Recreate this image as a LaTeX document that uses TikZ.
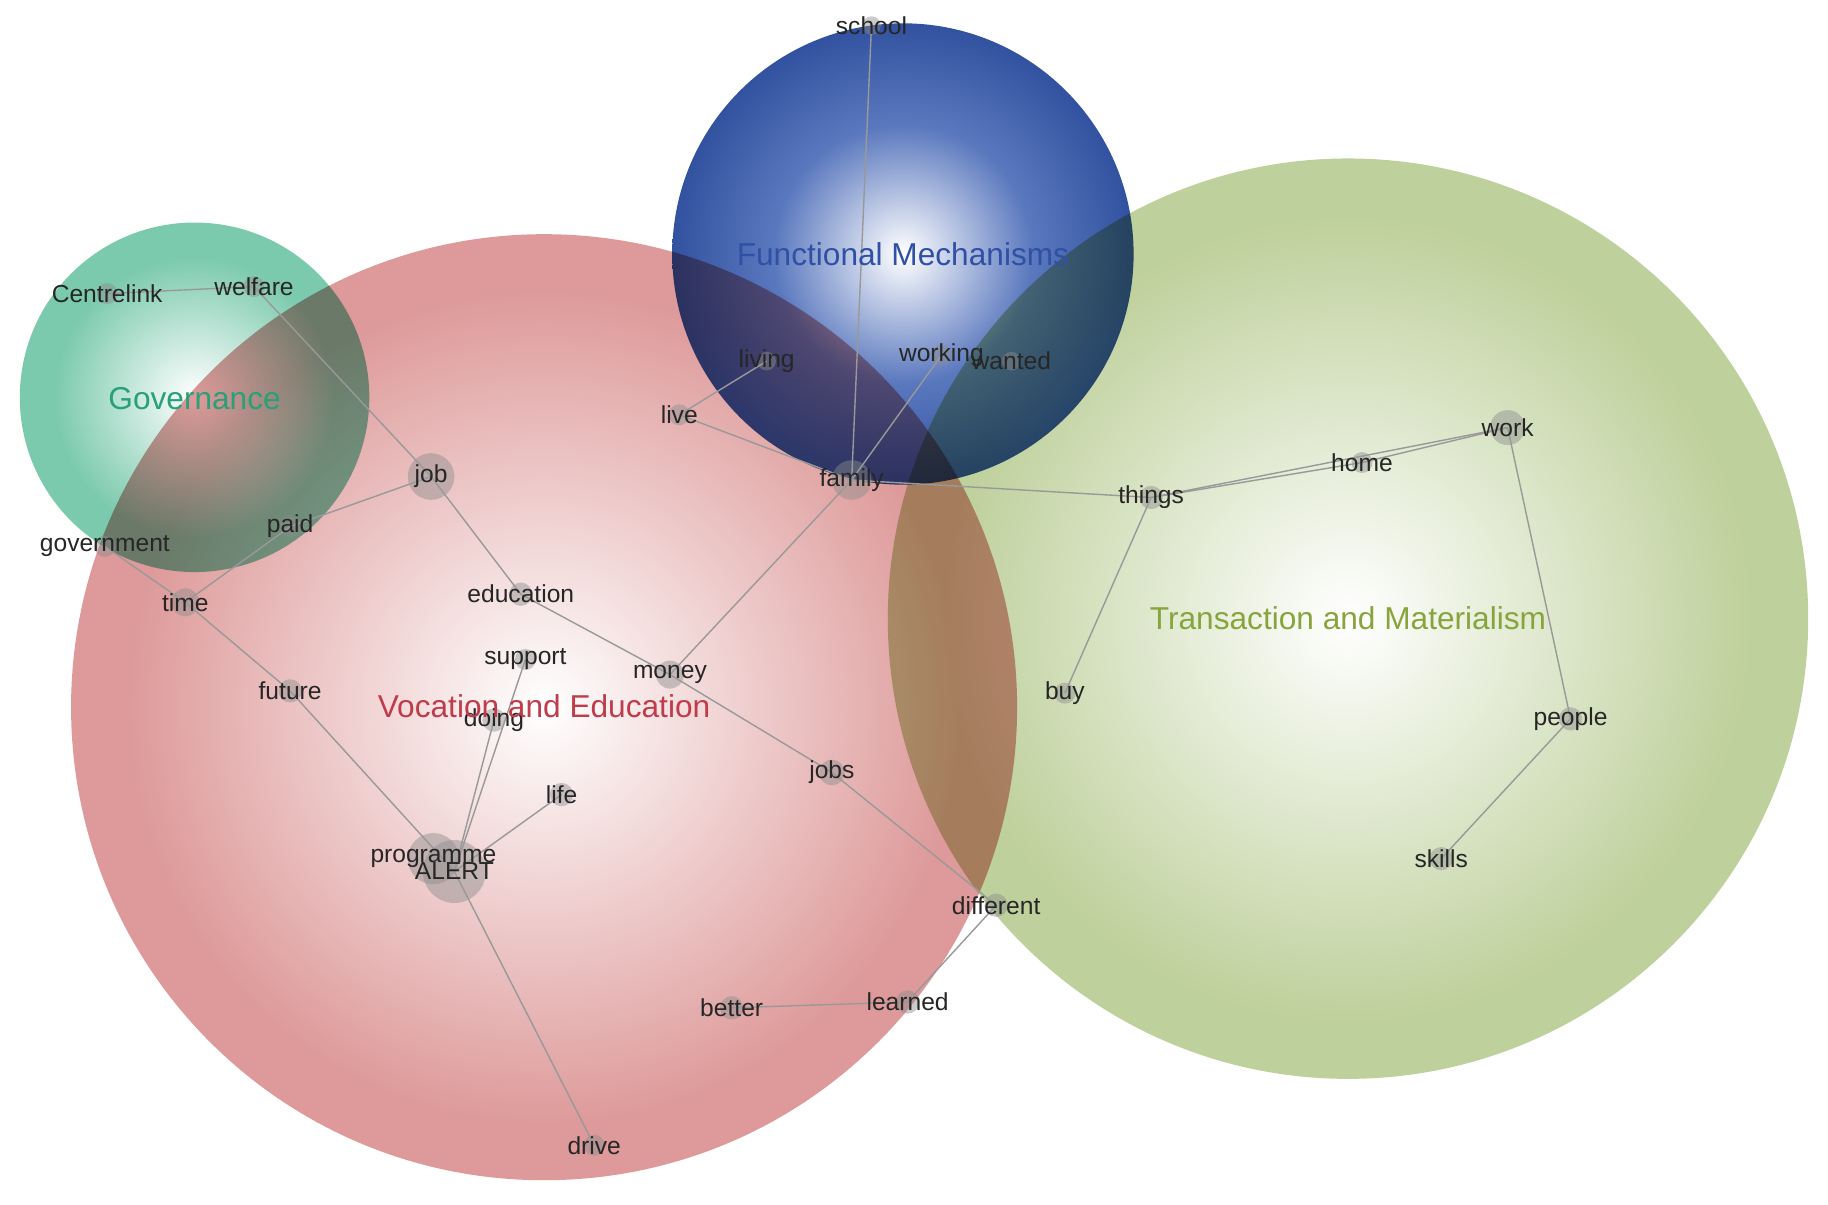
\documentclass[tikz,border=0pt]{standalone}
\usepackage{fontspec}
\setmainfont{Liberation Sans}
\definecolor{vocc}{RGB}{222,154,154}
\definecolor{trac}{RGB}{190,208,155}
\definecolor{govc}{RGB}{124,202,174}
\definecolor{func}{RGB}{24,58,140}
\definecolor{funm}{RGB}{90,120,190}
\pgfdeclareradialshading{vocsh}{\pgfpoint{0bp}{0bp}}{color(0bp)=(white); color(22bp)=(vocc); color(50bp)=(vocc)}
\pgfdeclareradialshading{trash}{\pgfpoint{0bp}{0bp}}{color(0bp)=(white); color(22bp)=(trac); color(50bp)=(trac)}
\pgfdeclareradialshading{govsh}{\pgfpoint{0bp}{0bp}}{color(0bp)=(white); color(20bp)=(govc); color(50bp)=(govc)}
\pgfdeclareradialshading{funsh}{\pgfpoint{0bp}{0bp}}{color(0bp)=(white); color(14bp)=(funm); color(32bp)=(func); color(50bp)=(func)}
\begin{document}
\begin{tikzpicture}[x=0.0233cm,y=-0.0233cm,
  lbl/.style={font=\fontsize{14}{16}\selectfont, text=black!85, inner sep=0pt},
  ttl/.style={font=\fontsize{18}{20}\selectfont, inner sep=0pt},
  edge/.style={draw=black!40, line width=0.8pt},
  dot/.style={fill=black!45, fill opacity=0.45}]
\useasboundingbox (0,0) rectangle (1569,1034);
\begin{scope}[blend mode=multiply]
\shade[shading=trash] (1157,531) circle (395);
\shade[shading=vocsh] (467,607) circle (406);
\shade[shading=govsh] (167,341) circle (150);
\shade[shading=funsh] (775,218) circle (198);
\end{scope}
\foreach \n/\x/\y/\r in {school/748/22/8, centrelink/92/252/9, welfare/218/246/9,
  living/658/310/8, working/808/305/9, wanted/868/310/8, live/583/356/9,
  job/370/409/20, family/731/412/17, things/988/427/10, home/1169/397/9,
  work/1294/367/15, paid/249/452/9, government/90/469/9, time/159/517/12,
  education/447/510/10, support/451/566/9, money/575/579/12, future/249/593/10,
  buy/914/595/9, people/1348/617/10, doing/424/618/10, jobs/714/663/11,
  life/482/682/10, programme/372/737/22, alert/390/748/27, skills/1237/737/10,
  different/855/777/10, better/628/865/10, learned/779/860/10, drive/510/983/9}
{\coordinate (\n) at (\x,\y); \fill[dot] (\x,\y) circle (\r);}
\foreach \a/\b in {centrelink/welfare, welfare/job, government/time, time/paid, paid/job,
  job/education, education/money, money/jobs, jobs/different, money/family,
  live/living, live/family, school/family, working/family, family/things,
  things/home, home/work, things/work, things/buy, work/people, people/skills,
  time/future, future/alert, support/alert, doing/alert, life/alert,
  alert/drive, different/learned, learned/better}
  \draw[edge] (\a) -- (\b);
\foreach \n/\t in {school/school, centrelink/Centrelink, welfare/welfare, living/living,
  working/working, wanted/wanted, live/live, job/job, family/family, things/things,
  home/home, work/work, paid/paid, government/government, time/time,
  education/education, support/support, money/money, future/future, buy/buy,
  people/people, doing/doing, jobs/jobs, life/life, programme/programme,
  alert/ALERT, skills/skills, different/different, better/better,
  learned/learned, drive/drive}
  \node[lbl] (l-\n) at (\n) {\t};
\node[ttl, text={rgb,255:red,40;green,160;blue,120}] (tgov) at (167,342) {Governance};
\node[ttl, text={rgb,255:red,48;green,80;blue,165}] (tfun) at (775,218) {Functional Mechanisms};
\node[ttl, text={rgb,255:red,190;green,60;blue,75}] (tvoc) at (467,606) {Vocation and Education};
\node[ttl, text={rgb,255:red,135;green,165;blue,60}] (ttra) at (1157,531) {Transaction and Materialism};
\end{tikzpicture}
\end{document}
